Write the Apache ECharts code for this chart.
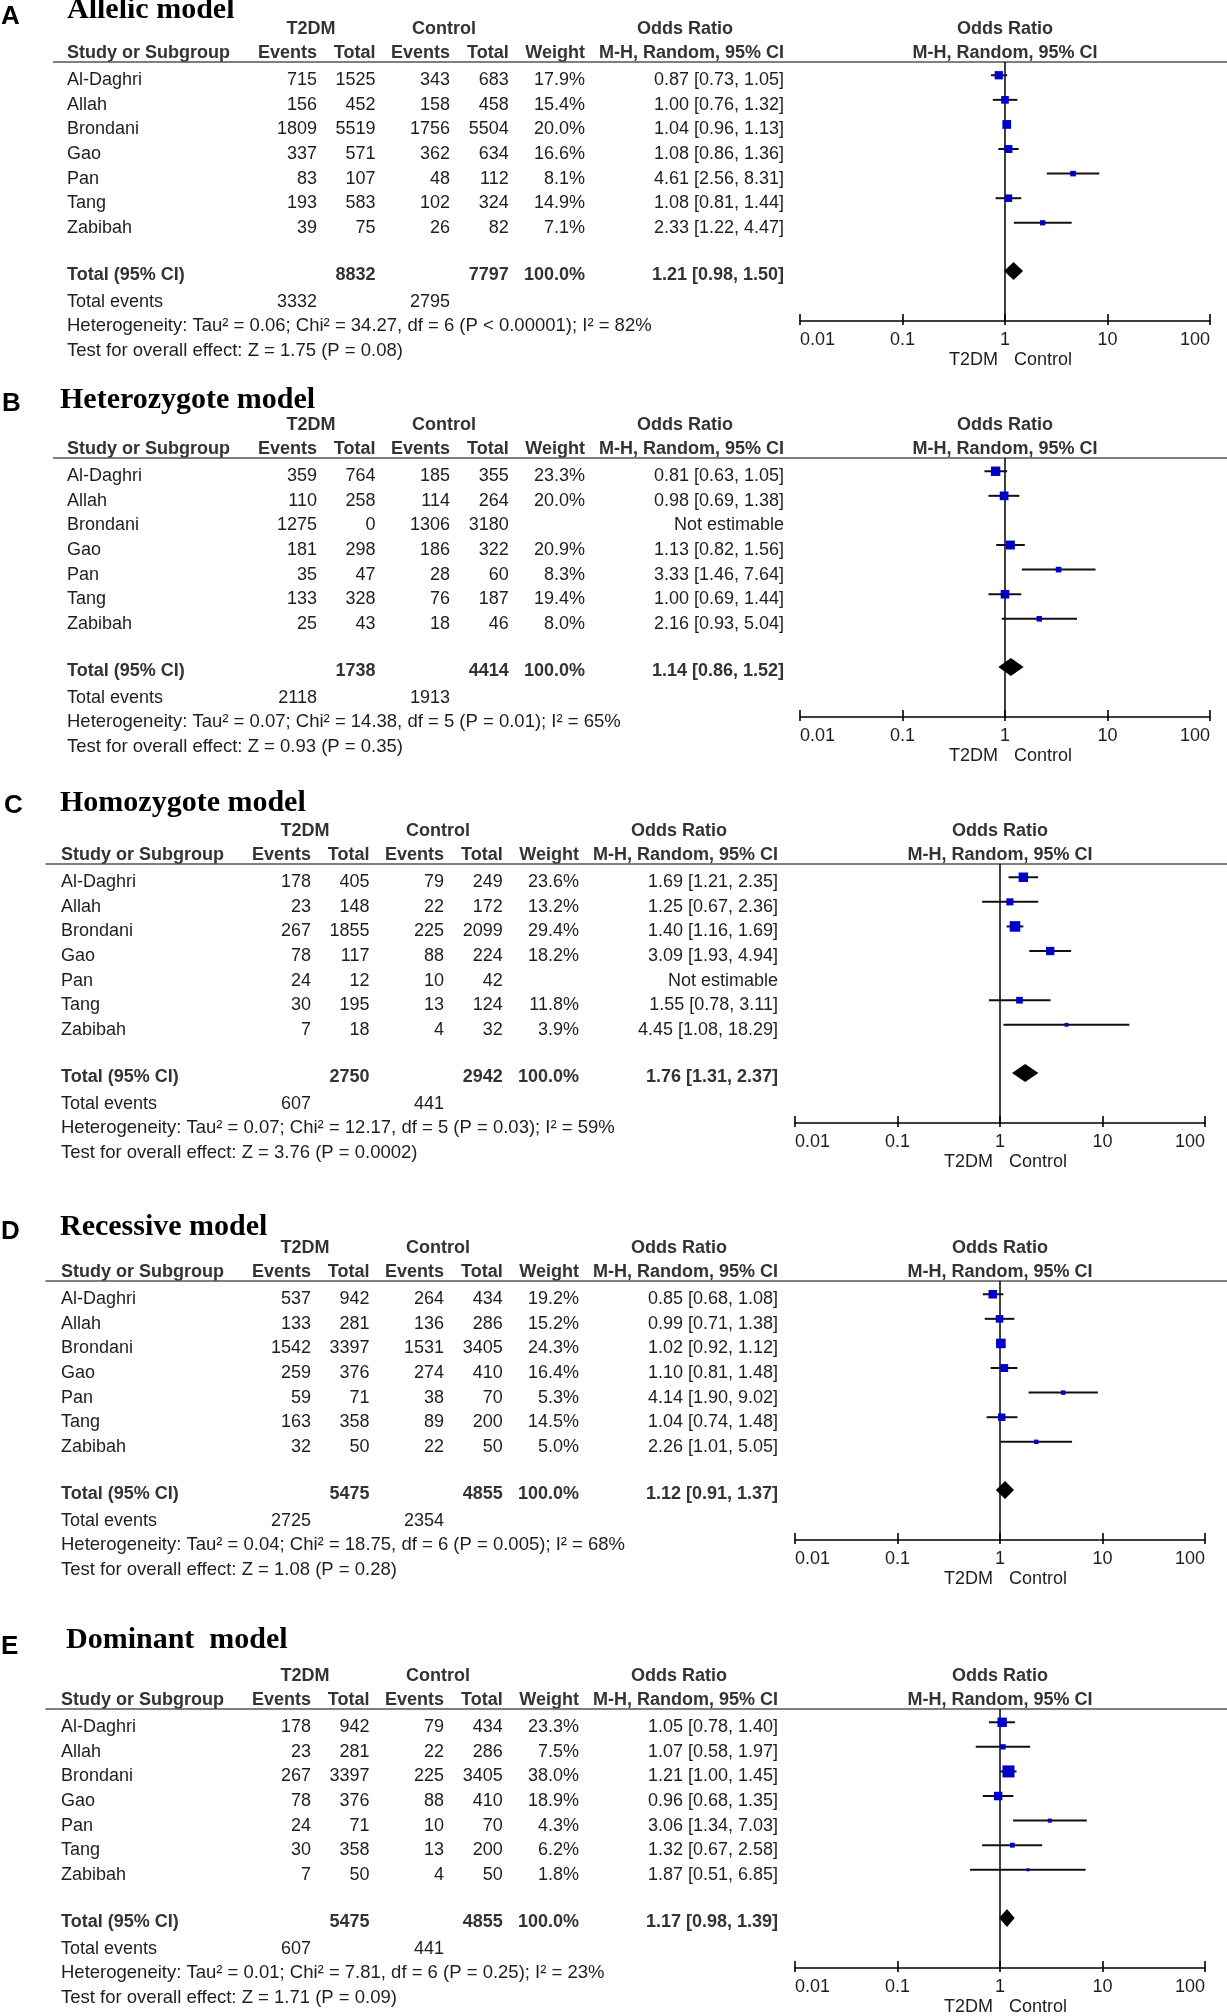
<!DOCTYPE html>
<html><head><meta charset="utf-8">
<script src="https://cdn.jsdelivr.net/npm/echarts@6/dist/echarts.min.js"></script>
<style>html,body{margin:0;padding:0;background:#fff}#c{width:1227px;height:2016px}</style>
</head><body><div id="c"></div><script>
// ---------- DATA ----------
const studies = ['Al-Daghri', 'Allah', 'Brondani', 'Gao', 'Pan', 'Tang', 'Zabibah'];
const xTickLabels = ['0.01', '0.1', '1', '10', '100'];

// A  Allelic model
const A_t2dmEvents = [715, 156, 1809, 337, 83, 193, 39];
const A_t2dmTotal  = [1525, 452, 5519, 571, 107, 583, 75];
const A_ctrlEvents = [343, 158, 1756, 362, 48, 102, 26];
const A_ctrlTotal  = [683, 458, 5504, 634, 112, 324, 82];
const A_weight     = [17.9, 15.4, 20.0, 16.6, 8.1, 14.9, 7.1];
const A_or         = [0.87, 1.00, 1.04, 1.08, 4.61, 1.08, 2.33];
const A_lo         = [0.73, 0.76, 0.96, 0.86, 2.56, 0.81, 1.22];
const A_hi         = [1.05, 1.32, 1.13, 1.36, 8.31, 1.44, 4.47];
const A_totals     = [8832, 7797];
const A_totalEvents = [3332, 2795];
const A_pooled     = [1.21, 0.98, 1.50];
const A_het  = 'Heterogeneity: Tau² = 0.06; Chi² = 34.27, df = 6 (P < 0.00001); I² = 82%';
const A_test = 'Test for overall effect: Z = 1.75 (P = 0.08)';

// B  Heterozygote model
const B_t2dmEvents = [359, 110, 1275, 181, 35, 133, 25];
const B_t2dmTotal  = [764, 258, 0, 298, 47, 328, 43];
const B_ctrlEvents = [185, 114, 1306, 186, 28, 76, 18];
const B_ctrlTotal  = [355, 264, 3180, 322, 60, 187, 46];
const B_weight     = [23.3, 20.0, null, 20.9, 8.3, 19.4, 8.0];
const B_or         = [0.81, 0.98, null, 1.13, 3.33, 1.00, 2.16];
const B_lo         = [0.63, 0.69, null, 0.82, 1.46, 0.69, 0.93];
const B_hi         = [1.05, 1.38, null, 1.56, 7.64, 1.44, 5.04];
const B_totals     = [1738, 4414];
const B_totalEvents = [2118, 1913];
const B_pooled     = [1.14, 0.86, 1.52];
const B_het  = 'Heterogeneity: Tau² = 0.07; Chi² = 14.38, df = 5 (P = 0.01); I² = 65%';
const B_test = 'Test for overall effect: Z = 0.93 (P = 0.35)';

// C  Homozygote model
const C_t2dmEvents = [178, 23, 267, 78, 24, 30, 7];
const C_t2dmTotal  = [405, 148, 1855, 117, 12, 195, 18];
const C_ctrlEvents = [79, 22, 225, 88, 10, 13, 4];
const C_ctrlTotal  = [249, 172, 2099, 224, 42, 124, 32];
const C_weight     = [23.6, 13.2, 29.4, 18.2, null, 11.8, 3.9];
const C_or         = [1.69, 1.25, 1.40, 3.09, null, 1.55, 4.45];
const C_lo         = [1.21, 0.67, 1.16, 1.93, null, 0.78, 1.08];
const C_hi         = [2.35, 2.36, 1.69, 4.94, null, 3.11, 18.29];
const C_totals     = [2750, 2942];
const C_totalEvents = [607, 441];
const C_pooled     = [1.76, 1.31, 2.37];
const C_het  = 'Heterogeneity: Tau² = 0.07; Chi² = 12.17, df = 5 (P = 0.03); I² = 59%';
const C_test = 'Test for overall effect: Z = 3.76 (P = 0.0002)';

// D  Recessive model
const D_t2dmEvents = [537, 133, 1542, 259, 59, 163, 32];
const D_t2dmTotal  = [942, 281, 3397, 376, 71, 358, 50];
const D_ctrlEvents = [264, 136, 1531, 274, 38, 89, 22];
const D_ctrlTotal  = [434, 286, 3405, 410, 70, 200, 50];
const D_weight     = [19.2, 15.2, 24.3, 16.4, 5.3, 14.5, 5.0];
const D_or         = [0.85, 0.99, 1.02, 1.10, 4.14, 1.04, 2.26];
const D_lo         = [0.68, 0.71, 0.92, 0.81, 1.90, 0.74, 1.01];
const D_hi         = [1.08, 1.38, 1.12, 1.48, 9.02, 1.48, 5.05];
const D_totals     = [5475, 4855];
const D_totalEvents = [2725, 2354];
const D_pooled     = [1.12, 0.91, 1.37];
const D_het  = 'Heterogeneity: Tau² = 0.04; Chi² = 18.75, df = 6 (P = 0.005); I² = 68%';
const D_test = 'Test for overall effect: Z = 1.08 (P = 0.28)';

// E  Dominant model
const E_t2dmEvents = [178, 23, 267, 78, 24, 30, 7];
const E_t2dmTotal  = [942, 281, 3397, 376, 71, 358, 50];
const E_ctrlEvents = [79, 22, 225, 88, 10, 13, 4];
const E_ctrlTotal  = [434, 286, 3405, 410, 70, 200, 50];
const E_weight     = [23.3, 7.5, 38.0, 18.9, 4.3, 6.2, 1.8];
const E_or         = [1.05, 1.07, 1.21, 0.96, 3.06, 1.32, 1.87];
const E_lo         = [0.78, 0.58, 1.00, 0.68, 1.34, 0.67, 0.51];
const E_hi         = [1.40, 1.97, 1.45, 1.35, 7.03, 2.58, 6.85];
const E_totals     = [5475, 4855];
const E_totalEvents = [607, 441];
const E_pooled     = [1.17, 0.98, 1.39];
const E_het  = 'Heterogeneity: Tau² = 0.01; Chi² = 7.81, df = 6 (P = 0.25); I² = 23%';
const E_test = 'Test for overall effect: Z = 1.71 (P = 0.09)';

const panels = [
  {letter: 'A', title: 'Allelic model', e1: A_t2dmEvents, t1: A_t2dmTotal, e2: A_ctrlEvents, t2: A_ctrlTotal, w: A_weight, or: A_or, lo: A_lo, hi: A_hi, totals: A_totals, tev: A_totalEvents, pooled: A_pooled, het: A_het, test: A_test},
  {letter: 'B', title: 'Heterozygote model', e1: B_t2dmEvents, t1: B_t2dmTotal, e2: B_ctrlEvents, t2: B_ctrlTotal, w: B_weight, or: B_or, lo: B_lo, hi: B_hi, totals: B_totals, tev: B_totalEvents, pooled: B_pooled, het: B_het, test: B_test},
  {letter: 'C', title: 'Homozygote model', e1: C_t2dmEvents, t1: C_t2dmTotal, e2: C_ctrlEvents, t2: C_ctrlTotal, w: C_weight, or: C_or, lo: C_lo, hi: C_hi, totals: C_totals, tev: C_totalEvents, pooled: C_pooled, het: C_het, test: C_test},
  {letter: 'D', title: 'Recessive model', e1: D_t2dmEvents, t1: D_t2dmTotal, e2: D_ctrlEvents, t2: D_ctrlTotal, w: D_weight, or: D_or, lo: D_lo, hi: D_hi, totals: D_totals, tev: D_totalEvents, pooled: D_pooled, het: D_het, test: D_test},
  {letter: 'E', title: 'Dominant  model', e1: E_t2dmEvents, t1: E_t2dmTotal, e2: E_ctrlEvents, t2: E_ctrlTotal, w: E_weight, or: E_or, lo: E_lo, hi: E_hi, totals: E_totals, tev: E_totalEvents, pooled: E_pooled, het: E_het, test: E_test}
];

// ---------- LAYOUT ----------
const W = 1227;
const SANS = '"Liberation Sans", Arial, Helvetica, sans-serif';
const SERIF = '"Liberation Serif", "Times New Roman", serif';
const FS = 18;
const TEXT_C = '#1e1e1e', BOLD_C = '#333333';
const layout = [
  {top: 62,   left: 800, shift: 0,  titleX: 67, titleY: 10,   letterX: 1, letterY: 17,   lineX: 53},
  {top: 458,  left: 800, shift: 0,  titleX: 60, titleY: 400,  letterX: 2, letterY: 404,  lineX: 53},
  {top: 864,  left: 795, shift: -6, titleX: 60, titleY: 803,  letterX: 4, letterY: 806,  lineX: 45.5},
  {top: 1281, left: 795, shift: -6, titleX: 60, titleY: 1227, letterX: 1, letterY: 1232, lineX: 45.5},
  {top: 1709, left: 795, shift: -6, titleX: 66, titleY: 1640, letterX: 1, letterY: 1647, lineX: 45.5}
];
const GRID_H = 259, GRID_W = 410;
const YMIN = -0.742, YMAX = 9.79;
const ROW_TOTAL = 7.92, ROW_EVENTS = 9, ROW_HET = 10, ROW_TEST = 11;
const COL = {name: 67, e1: 317, t1: 375.5, e2: 450, t2: 508.7, w: 585, or: 784, t2dm: 311, ctrl: 444, orHead: 685};
const MARK_OFF = 5, SQ_K = 1.95;
const FOOT_FONT = '18.5px ' + SANS;

const fmtOR = (o, l, h) => o.toFixed(2) + ' [' + l.toFixed(2) + ', ' + h.toFixed(2) + ']';

function txt(text, x, y, align, bold, color, font) {
  return {type: 'text', x: x, y: y, silent: true,
    style: {text: text, fill: color || (bold ? BOLD_C : TEXT_C),
      font: font || ((bold ? 'bold ' : '') + FS + 'px ' + SANS),
      align: align, verticalAlign: 'middle', textAlign: align, textVerticalAlign: 'middle'}};
}

function tableRender(P, L) {
  return function (params, api) {
    const row = api.value(1);
    const y = api.coord([1, row])[1];
    const k = params.dataIndex;
    const s = L.shift;
    let ch = [];
    if (k < studies.length) {
      ch.push(txt(studies[k], COL.name + s, y, 'left'));
      ch.push(txt(String(P.e1[k]), COL.e1 + s, y, 'right'));
      ch.push(txt(String(P.t1[k]), COL.t1 + s, y, 'right'));
      ch.push(txt(String(P.e2[k]), COL.e2 + s, y, 'right'));
      ch.push(txt(String(P.t2[k]), COL.t2 + s, y, 'right'));
      if (P.w[k] != null) ch.push(txt(P.w[k].toFixed(1) + '%', COL.w + s, y, 'right'));
      ch.push(txt(P.or[k] != null ? fmtOR(P.or[k], P.lo[k], P.hi[k]) : 'Not estimable', COL.or + s, y, 'right'));
    } else if (k === studies.length) {
      ch.push(txt('Total (95% CI)', COL.name + s, y, 'left', true));
      ch.push(txt(String(P.totals[0]), COL.t1 + s, y, 'right', true));
      ch.push(txt(String(P.totals[1]), COL.t2 + s, y, 'right', true));
      ch.push(txt('100.0%', COL.w + s, y, 'right', true));
      ch.push(txt(fmtOR(P.pooled[0], P.pooled[1], P.pooled[2]), COL.or + s, y, 'right', true));
    } else if (k === studies.length + 1) {
      ch.push(txt('Total events', COL.name + s, y, 'left'));
      ch.push(txt(String(P.tev[0]), COL.e1 + s, y, 'right'));
      ch.push(txt(String(P.tev[1]), COL.e2 + s, y, 'right'));
    } else if (k === studies.length + 2) {
      ch.push(txt(P.het, COL.name + s, y, 'left', false, null, FOOT_FONT));
    } else {
      ch.push(txt(P.test, COL.name + s, y, 'left', false, null, FOOT_FONT));
    }
    return {type: 'group', children: ch};
  };
}

function forestRender(params, api) {
  const o = api.value(0), l = api.value(1), h = api.value(2), w = api.value(3), row = api.value(4), tot = api.value(5);
  const c = api.coord([o, row]), pl = api.coord([l, row]), ph = api.coord([h, row]);
  if (tot) {
    const y = c[1] - 4;
    return {type: 'polygon', shape: {points: [[pl[0], y], [c[0], y - 9], [ph[0], y], [c[0], y + 9]]}, style: {fill: '#000'}};
  }
  const y = c[1] - MARK_OFF;
  const s = Math.max(3, SQ_K * Math.sqrt(w));
  return {type: 'group', children: [
    {type: 'line', shape: {x1: pl[0], y1: y, x2: ph[0], y2: y}, style: {stroke: '#111', lineWidth: 2}},
    {type: 'rect', shape: {x: c[0] - s / 2, y: y - s / 2, width: s, height: s}, style: {fill: '#0000c8'}}
  ]};
}

const grids = [], xAxes = [], yAxes = [], series = [];
panels.forEach((P, p) => {
  const L = layout[p];
  grids.push({left: L.left, top: L.top, width: GRID_W, height: GRID_H, containLabel: false});
  xAxes.push({type: 'log', logBase: 10, gridIndex: p, min: 0.01, max: 100, position: 'bottom',
    axisLine: {show: true, onZero: false, lineStyle: {color: '#000', width: 1.6}},
    axisTick: {show: true, inside: true, length: 7, lineStyle: {color: '#000', width: 1.6}},
    minorTick: {show: false}, splitLine: {show: false},
    axisLabel: {show: true, color: TEXT_C, fontSize: FS, fontFamily: SANS, margin: 10,
      alignMinLabel: 'left', alignMaxLabel: 'right',
      formatter: v => xTickLabels[Math.round(Math.log10(v)) + 2] || ''}});
  yAxes.push({type: 'value', gridIndex: p, inverse: true, min: YMIN, max: YMAX, show: false});

  // reference line at OR = 1
  series.push({type: 'line', xAxisIndex: p, yAxisIndex: p, data: [[1, YMIN], [1, YMAX]], symbol: 'none',
    silent: true, lineStyle: {color: '#000', width: 1.5}, z: 1, animation: false});

  // forest marks
  const fdata = [];
  studies.forEach((s, i) => { if (P.or[i] != null) fdata.push([P.or[i], P.lo[i], P.hi[i], P.w[i], i, 0]); });
  fdata.push([P.pooled[0], P.pooled[1], P.pooled[2], 100, ROW_TOTAL, 1]);
  series.push({type: 'custom', xAxisIndex: p, yAxisIndex: p, data: fdata, renderItem: forestRender,
    encode: {x: [0, 1, 2], y: 4}, z: 3, silent: true, animation: false, clip: false});

  // table rows
  const tdata = studies.map((s, i) => [1, i]);
  tdata.push([1, ROW_TOTAL], [1, ROW_EVENTS], [1, ROW_HET], [1, ROW_TEST]);
  series.push({type: 'custom', xAxisIndex: p, yAxisIndex: p, data: tdata, renderItem: tableRender(P, L),
    encode: {x: 0, y: 1}, z: 2, silent: true, animation: false, clip: false});
});
// overlay axes: tick stubs below the axis line
panels.forEach((P, p) => {
  xAxes.push({type: 'log', logBase: 10, gridIndex: p, min: 0.01, max: 100, position: 'bottom',
    axisLine: {show: false, onZero: false},
    axisTick: {show: true, inside: false, length: 4, lineStyle: {color: '#000', width: 1.6}},
    axisLabel: {show: false}, splitLine: {show: false}, minorTick: {show: false}});
});

const chart = echarts.init(document.getElementById('c'), null, {renderer: 'canvas'});
chart.setOption({animation: false, backgroundColor: '#fff', grid: grids, xAxis: xAxes, yAxis: yAxes, series: series});

// headers / titles (positions derived from the axes)
const g = [];
panels.forEach((P, p) => {
  const L = layout[p];
  const s = L.shift;
  const top = chart.convertToPixel({yAxisIndex: p}, YMIN);
  const bottom = chart.convertToPixel({yAxisIndex: p}, YMAX);
  const x1 = chart.convertToPixel({xAxisIndex: p}, 1);
  g.push(txt(P.letter, L.letterX, L.letterY, 'left', true, '#000', 'bold 26px ' + SANS));
  g.push(txt(P.title, L.titleX, L.titleY, 'left', true, '#000', 'bold 30px ' + SERIF));
  const hy1 = top - 33, hy2 = top - 8.5;
  g.push(txt('T2DM', COL.t2dm + s, hy1, 'center', true));
  g.push(txt('Control', COL.ctrl + s, hy1, 'center', true));
  g.push(txt('Odds Ratio', COL.orHead + s, hy1, 'center', true));
  g.push(txt('Odds Ratio', x1, hy1, 'center', true));
  g.push(txt('Study or Subgroup', COL.name + s, hy2, 'left', true));
  g.push(txt('Events', COL.e1 + s, hy2, 'right', true));
  g.push(txt('Total', COL.t1 + s, hy2, 'right', true));
  g.push(txt('Events', COL.e2 + s, hy2, 'right', true));
  g.push(txt('Total', COL.t2 + s, hy2, 'right', true));
  g.push(txt('Weight', COL.w + s, hy2, 'right', true));
  g.push(txt('M-H, Random, 95% CI', COL.or + s, hy2, 'right', true));
  g.push(txt('M-H, Random, 95% CI', x1, hy2, 'center', true));
  g.push({type: 'line', silent: true, shape: {x1: L.lineX, y1: top, x2: W, y2: top}, style: {stroke: '#555', lineWidth: 1.5}});
  g.push(txt('T2DM', x1 - 7, bottom + 39.5, 'right'));
  g.push(txt('Control', x1 + 9, bottom + 39.5, 'left'));
});
chart.setOption({graphic: g});
</script></body></html>
